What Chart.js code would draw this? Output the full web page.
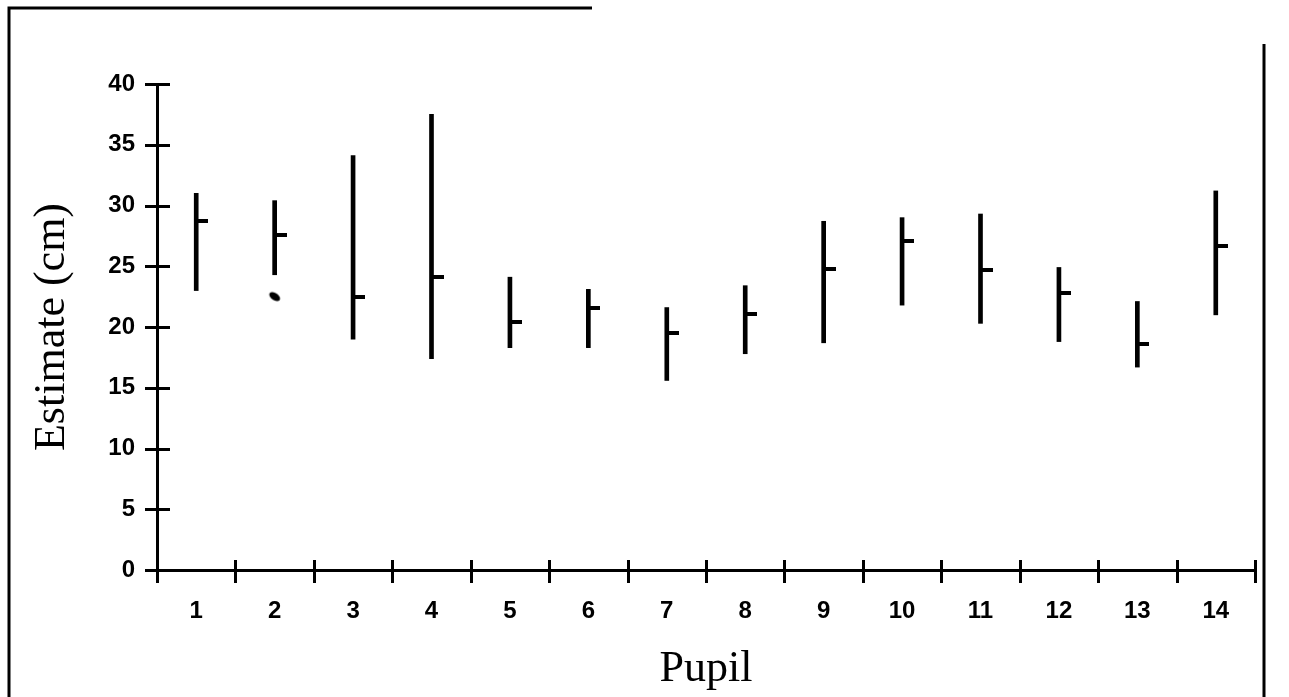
<!DOCTYPE html>
<html>
<head>
<meta charset="utf-8">
<script src="https://cdn.jsdelivr.net/npm/chart.js@4.4.0/dist/chart.umd.min.js"></script>
<style>
  html, body { margin: 0; padding: 0; background: #fff; }
  #wrap { position: relative; width: 1289px; height: 697px; }
</style>
</head>
<body>
<div id="wrap"><canvas id="chart" width="1289" height="697"></canvas></div>
<script>
// Pupil estimates (cm): lowest, highest and marked estimate per pupil
const pupils = ['1', '2', '3', '4', '5', '6', '7', '8', '9', '10', '11', '12', '13', '14'];
const lowValues  = [23.0, 24.3, 19.0, 17.4, 18.3, 18.3, 15.6, 17.8, 18.7, 21.8, 20.3, 18.8, 16.7, 21.0];
const highValues = [31.0, 30.4, 34.1, 37.5, 24.1, 23.1, 21.6, 23.4, 28.7, 29.0, 29.3, 24.9, 22.1, 31.2];
const markValues = [28.7, 27.6, 22.5, 24.1, 20.4, 21.6, 19.5, 21.1, 24.8, 27.1, 24.7, 22.8, 18.6, 26.7];
// the odd blob under pupil 2's line
const strayValues = [null, 22.5, null, null, null, null, null, null, null, null, null, null, null, null];
const yTicks = [0, 5, 10, 15, 20, 25, 30, 35, 40];

// small dash that sticks out to the right of the range line
function makeMarkCanvas() {
  const c = document.createElement('canvas');
  c.width = 24;
  c.height = 4;
  const g = c.getContext('2d');
  g.fillStyle = '#000';
  g.fillRect(12, 0, 12, 4);
  return c;
}

// slanted blob
function makeBlobCanvas() {
  const c = document.createElement('canvas');
  c.width = 14;
  c.height = 12;
  const g = c.getContext('2d');
  g.fillStyle = '#000';
  g.translate(7, 6);
  g.rotate(0.6);
  g.beginPath();
  g.ellipse(0, 0, 6, 3.5, 0, 0, Math.PI * 2);
  g.fill();
  return c;
}

// frame and crossing tick marks
const decorPlugin = {
  id: 'decor',
  beforeDraw(chart) {
    const ctx = chart.ctx;
    ctx.save();
    ctx.strokeStyle = '#000';
    ctx.lineWidth = 3;
    ctx.beginPath();
    ctx.moveTo(9, 697);
    ctx.lineTo(9, 8);
    ctx.lineTo(592, 8);
    ctx.moveTo(1264, 44);
    ctx.lineTo(1264, 697);
    ctx.stroke();
    ctx.restore();
  },
  afterDraw(chart) {
    const ctx = chart.ctx;
    const xs = chart.scales.x;
    const ys = chart.scales.y;
    const area = chart.chartArea;
    ctx.save();
    ctx.strokeStyle = '#000';
    ctx.lineWidth = 3;
    ctx.beginPath();
    yTicks.forEach(v => {
      const py = Math.round(ys.getPixelForValue(v)) + 0.5;
      ctx.moveTo(area.left - 12, py);
      ctx.lineTo(area.left + 13, py);
    });
    const step = xs.getPixelForValue(1) - xs.getPixelForValue(0);
    for (let i = 0; i <= pupils.length; i++) {
      const px = Math.round(xs.getPixelForValue(0) - step / 2 + i * step) + 0.5;
      ctx.moveTo(px, area.bottom - 10);
      ctx.lineTo(px, area.bottom + 13);
    }
    ctx.stroke();
    ctx.restore();
  }
};

const tickFont = { family: 'Liberation Sans', weight: 'bold', size: 24 };
const titleFont = { family: 'Liberation Serif', size: 44 };

new Chart(document.getElementById('chart'), {
  type: 'bar',
  data: {
    labels: pupils,
    datasets: [
      {
        label: 'Range',
        data: pupils.map((p, i) => [lowValues[i], highValues[i]]),
        backgroundColor: '#000',
        borderWidth: 0,
        barThickness: 4
      },
      {
        type: 'line',
        label: 'Estimate',
        data: markValues,
        showLine: false,
        pointStyle: makeMarkCanvas(),
        pointRadius: 6
      },
      {
        type: 'line',
        label: 'Stray',
        data: strayValues,
        showLine: false,
        pointStyle: makeBlobCanvas(),
        pointRadius: 6
      }
    ]
  },
  options: {
    responsive: false,
    devicePixelRatio: 1,
    animation: false,
    layout: { padding: { left: 0, top: 84, right: 34, bottom: 0 } },
    plugins: {
      legend: { display: false },
      tooltip: { enabled: false }
    },
    scales: {
      x: {
        offset: true,
        grid: { display: false, drawTicks: false },
        border: { display: true, color: '#000', width: 3 },
        ticks: { color: '#000', font: tickFont, padding: 27, maxRotation: 0 },
        title: {
          display: true,
          text: 'Pupil',
          color: '#000',
          font: titleFont,
          padding: { top: 0, bottom: 1 }
        },
        afterFit(scale) { scale.height = 127; }
      },
      y: {
        min: 0,
        max: 40,
        grid: { display: false, drawTicks: false },
        border: { display: true, color: '#000', width: 3 },
        ticks: { color: '#000', font: tickFont, stepSize: 5, padding: 22 },
        title: {
          display: true,
          text: 'Estimate (cm)',
          color: '#000',
          font: titleFont,
          padding: { top: 26, bottom: 0 }
        },
        afterFit(scale) { scale.width = 157; }
      }
    }
  },
  plugins: [decorPlugin]
});
</script>
</body>
</html>
